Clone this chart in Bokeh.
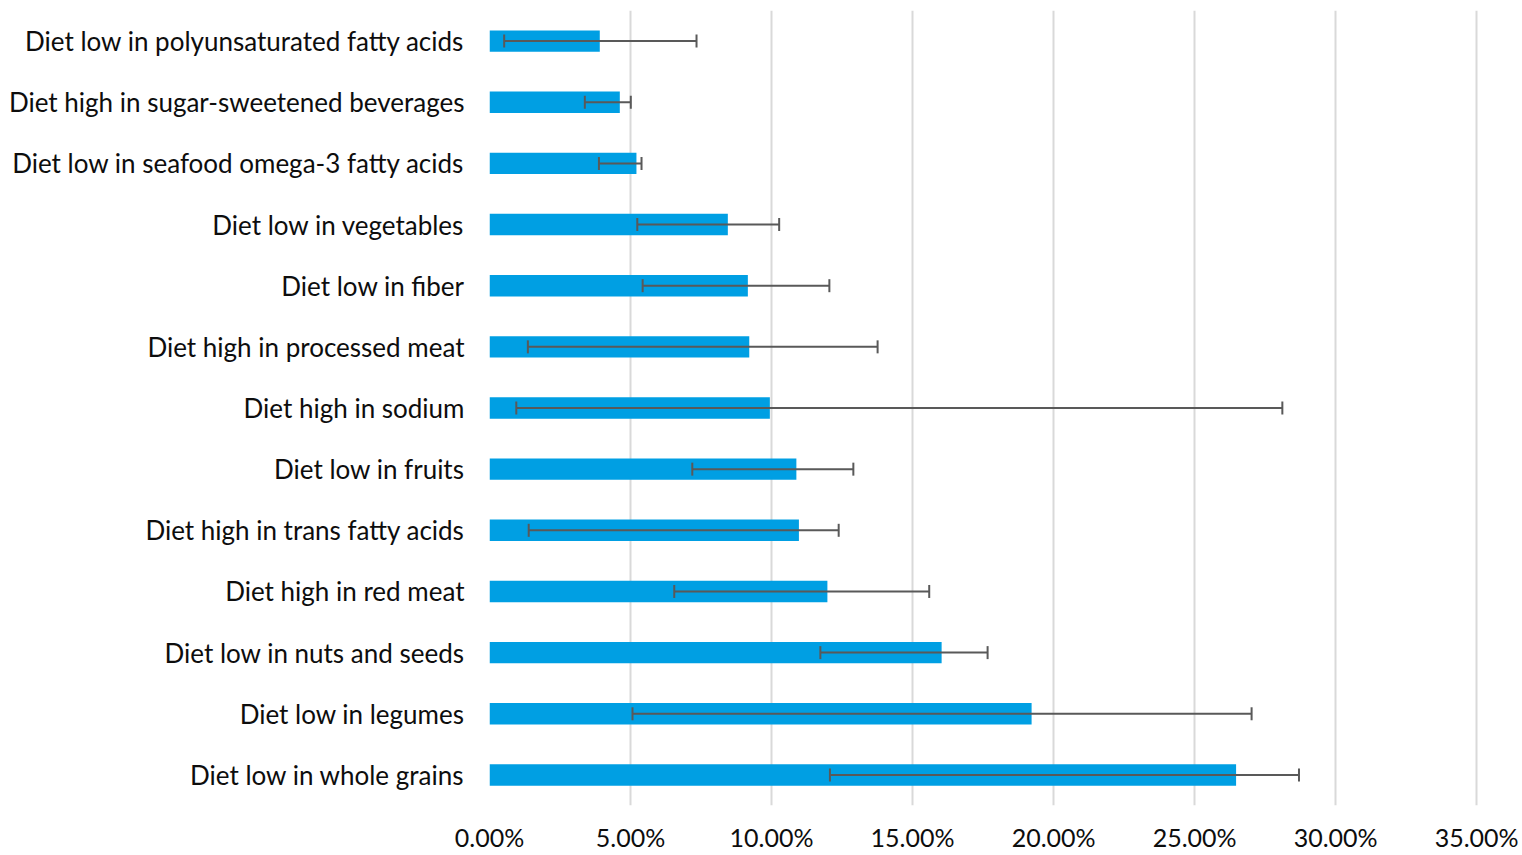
from bokeh.plotting import figure
from bokeh.models import ColumnDataSource, FactorRange, Range1d, FixedTicker, PrintfTickFormatter, Whisker, TeeHead
from bokeh.embed import file_html
from bokeh.resources import INLINE

# Data (top to bottom as in the chart), values in percent
categories = [
    "Diet low in polyunsaturated fatty acids",
    "Diet high in sugar-sweetened beverages",
    "Diet low in seafood omega-3 fatty acids",
    "Diet low in vegetables",
    "Diet low in fiber",
    "Diet high in processed meat",
    "Diet high in sodium",
    "Diet low in fruits",
    "Diet high in trans fatty acids",
    "Diet high in red meat",
    "Diet low in nuts and seeds",
    "Diet low in legumes",
    "Diet low in whole grains",
]
values = [3.91, 4.62, 5.21, 8.45, 9.16, 9.21, 9.94, 10.88, 10.97, 11.98, 16.03, 19.22, 26.47]
lower = [0.52, 3.38, 3.88, 5.24, 5.43, 1.36, 0.95, 7.19, 1.39, 6.55, 11.73, 5.07, 12.07]
upper = [7.34, 5.01, 5.39, 10.27, 12.05, 13.76, 28.11, 12.90, 12.38, 15.59, 17.66, 27.02, 28.70]
x_ticks = [0, 5, 10, 15, 20, 25, 30, 35]

FONT = "Lato"
src = ColumnDataSource(dict(cat=categories, val=values, lo=lower, hi=upper))

p = figure(
    frame_width=990, frame_height=795,
    y_range=FactorRange(factors=list(reversed(categories)), range_padding=0),
    x_range=Range1d(0, 35.1),
    output_backend="svg", toolbar_location=None,
    min_border_left=489, min_border_right=43, min_border_top=10, min_border_bottom=40,
)
p.outline_line_color = None
p.background_fill_color = "white"

p.hbar(y="cat", right="val", left=0, height=0.35, source=src, fill_color="#009FE3", line_color=None)

w = Whisker(source=src, base="cat", lower="lo", upper="hi", dimension="width",
            line_color="#595959", line_width=2, level="annotation",
            lower_head=TeeHead(size=13, line_color="#595959", line_width=2),
            upper_head=TeeHead(size=13, line_color="#595959", line_width=2))
p.add_layout(w)

# x axis
p.xaxis.ticker = FixedTicker(ticks=x_ticks)
p.xaxis.formatter = PrintfTickFormatter(format="%.2f%%")
p.xaxis.axis_line_color = None
p.xaxis.major_tick_line_color = None
p.xaxis.minor_tick_line_color = None
p.xaxis.major_label_standoff = 10
p.xaxis.major_label_text_font = FONT
p.xaxis.major_label_text_font_size = "25px"
p.xaxis.major_label_text_color = "#0d0d0d"

# y axis
p.yaxis.axis_line_color = None
p.yaxis.major_tick_line_color = None
p.yaxis.minor_tick_line_color = None
p.yaxis.major_label_standoff = 19
p.yaxis.major_label_text_font = FONT
p.yaxis.major_label_text_font_size = "26px"
p.yaxis.major_label_text_color = "#0d0d0d"

p.xgrid.grid_line_color = "#D9D9D9"
p.xgrid.grid_line_width = 2
p.ygrid.grid_line_color = None

open("out.html", "w").write(file_html(p, INLINE))
